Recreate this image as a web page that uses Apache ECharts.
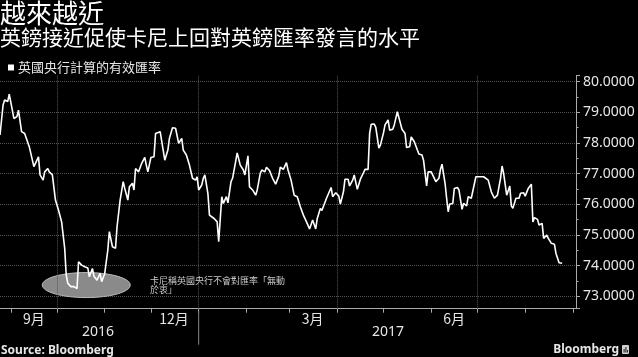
<!DOCTYPE html>
<html><head><meta charset="utf-8">
<script src="https://cdn.jsdelivr.net/npm/echarts@6/dist/echarts.min.js"></script>
<style>html,body{margin:0;padding:0;background:#000;}#c{width:638px;height:357px;}</style>
</head><body><div id="c"></div>
<script>
const dates = [
'2016-08-25','2016-08-27','2016-08-28','2016-08-30','2016-08-31','2016-09-02','2016-09-03','2016-09-05','2016-09-06','2016-09-08',
'2016-09-10','2016-09-11','2016-09-13','2016-09-16','2016-09-17','2016-09-19','2016-09-20','2016-09-22','2016-09-23','2016-09-25',
'2016-09-26','2016-09-28','2016-09-30','2016-10-02','2016-10-04','2016-10-06','2016-10-07','2016-10-08','2016-10-10','2016-10-12',
'2016-10-14','2016-10-15','2016-10-17','2016-10-19','2016-10-21','2016-10-22','2016-10-24','2016-10-25','2016-10-27','2016-10-29',
'2016-10-30','2016-11-01','2016-11-03','2016-11-04','2016-11-06','2016-11-08','2016-11-09','2016-11-11','2016-11-13','2016-11-14',
'2016-11-16','2016-11-17','2016-11-19','2016-11-20','2016-11-21','2016-11-22','2016-11-23','2016-11-25','2016-11-27','2016-11-28',
'2016-11-29','2016-12-01','2016-12-03','2016-12-04','2016-12-05','2016-12-07','2016-12-08','2016-12-10','2016-12-12','2016-12-13',
'2016-12-15','2016-12-17','2016-12-18','2016-12-19','2016-12-21','2016-12-22','2016-12-24','2016-12-26','2016-12-28','2016-12-30',
'2016-12-31','2017-01-01','2017-01-03','2017-01-04','2017-01-05','2017-01-07','2017-01-08','2017-01-11','2017-01-13','2017-01-14',
'2017-01-16','2017-01-17','2017-01-19','2017-01-20','2017-01-22','2017-01-23','2017-01-25','2017-01-26','2017-01-28','2017-01-30',
'2017-01-31','2017-02-02','2017-02-03','2017-02-05','2017-02-07','2017-02-08','2017-02-10','2017-02-11','2017-02-13','2017-02-14',
'2017-02-16','2017-02-18','2017-02-20','2017-02-22','2017-02-23','2017-02-25','2017-02-27','2017-02-28','2017-03-02','2017-03-04',
'2017-03-06','2017-03-08','2017-03-10','2017-03-12','2017-03-14','2017-03-16','2017-03-18','2017-03-19','2017-03-21','2017-03-22',
'2017-03-23','2017-03-25','2017-03-26','2017-03-28','2017-03-29','2017-03-31','2017-04-02','2017-04-03','2017-04-05','2017-04-06',
'2017-04-08','2017-04-09','2017-04-11','2017-04-12','2017-04-14','2017-04-16','2017-04-18','2017-04-19','2017-04-21','2017-04-22',
'2017-04-23','2017-04-25','2017-04-26','2017-04-28','2017-04-29','2017-05-01','2017-05-02','2017-05-04','2017-05-05','2017-05-07',
'2017-05-08','2017-05-10','2017-05-12','2017-05-13','2017-05-15','2017-05-16','2017-05-18','2017-05-19','2017-05-21','2017-05-23',
'2017-05-24','2017-05-26','2017-05-27','2017-05-29','2017-05-30','2017-06-01','2017-06-02','2017-06-04','2017-06-06','2017-06-07',
'2017-06-08','2017-06-10','2017-06-11','2017-06-12','2017-06-13','2017-06-15','2017-06-16','2017-06-18','2017-06-19','2017-06-21',
'2017-06-22','2017-06-24','2017-06-25','2017-06-27','2017-06-28','2017-06-30','2017-07-02','2017-07-03','2017-07-05','2017-07-06',
'2017-07-08','2017-07-10','2017-07-11','2017-07-12','2017-07-14','2017-07-16','2017-07-17','2017-07-18','2017-07-20','2017-07-22',
'2017-07-23','2017-07-24','2017-07-26','2017-07-28','2017-07-29','2017-07-31','2017-08-01','2017-08-03','2017-08-05','2017-08-06',
'2017-08-07','2017-08-09','2017-08-10','2017-08-12','2017-08-13','2017-08-15','2017-08-16','2017-08-18','2017-08-20','2017-08-21',
'2017-08-23','2017-08-25'
];
const values = [
78.26,79.24,79.40,79.35,79.59,79.07,78.80,78.86,79.07,78.37,
78.31,78.26,77.88,77.23,77.28,77.55,76.96,76.79,77.06,77.17,
77.06,76.96,76.14,75.81,75.43,74.57,73.70,73.43,73.32,73.32,
73.26,74.13,74.02,73.97,73.93,73.64,73.91,73.66,73.53,73.75,
73.48,73.75,74.51,75.11,74.62,74.57,75.27,76.14,76.74,76.52,
76.14,76.57,76.69,76.47,77.17,77.23,77.06,77.34,77.53,77.28,
77.06,77.53,77.55,78.31,78.37,78.37,78.31,77.44,77.77,78.15,
78.50,78.48,78.50,77.99,78.15,77.77,77.61,77.28,76.85,76.79,
76.90,76.47,76.63,76.85,76.96,76.35,75.65,75.54,75.43,74.78,
76.25,76.03,76.25,76.05,76.74,76.85,77.39,77.68,77.28,77.12,
76.96,77.58,76.57,76.47,76.30,76.47,77.01,77.12,77.06,77.21,
77.10,76.85,76.66,76.92,77.21,77.14,77.36,77.12,76.79,76.30,
76.25,75.92,75.65,75.43,75.20,75.49,75.20,75.54,75.87,75.80,
75.76,76.20,76.20,76.55,76.25,76.38,76.27,76.01,76.41,76.82,
76.82,76.60,76.79,76.96,76.49,76.82,77.03,77.14,77.14,78.31,
78.61,78.62,78.51,77.83,77.93,78.33,78.59,78.75,78.42,78.45,
78.59,79.02,78.64,78.45,78.31,77.85,77.88,78.20,78.04,77.77,
77.64,77.61,77.44,76.60,77.06,77.06,77.06,76.74,76.85,77.14,
77.31,76.68,76.20,75.76,76.01,76.03,76.52,76.55,76.47,75.84,
76.03,75.95,76.25,76.20,76.14,76.90,76.90,76.85,76.90,76.96,
76.79,76.41,76.36,76.20,76.30,76.85,77.25,77.01,76.30,76.60,
75.95,75.87,76.20,76.20,76.36,76.38,76.27,76.52,76.66,75.43,
75.57,75.51,75.33,75.38,74.89,75.00,74.89,74.73,74.70,74.40,
74.10,74.08
];
const seriesName = '英國央行計算的有效匯率';
const monthLabels = {'2016-09': '9月', '2016-12': '12月', '2017-03': '3月', '2017-06': '6月'};
const gridDates = ['2016-10-01', '2017-01-01', '2017-04-01', '2017-07-01'];
const yearLabels = ['2016', '2017'];
const yearBoundary = '2017-01-01';
const axisStart = '2016-08-25', axisEnd = '2017-09-03';
const yMin = 72.6, yMax = 80.2;
const annotationCenter = ['2016-10-20', 73.37];
const annotationText = '卡尼稱英國央行不會對匯率「無動\n於衷」';

const CJK = "'Noto Sans CJK TC','Noto Sans CJK SC','Noto Sans',sans-serif";
const LAT = "'Noto Sans','Noto Sans CJK TC',sans-serif";
function toTime(s) { const p = s.split('-').map(Number); return new Date(p[0], p[1] - 1, p[2]).getTime(); }

const chart = echarts.init(document.getElementById('c'), null, {renderer: 'canvas'});
const DAY = 86400000;
chart.setOption({
  backgroundColor: '#000',
  animation: false,
  grid: {left: 0, right: 62, top: 75.5, bottom: 48.3, containLabel: false},
  legend: {
    show: true, left: 3, top: 56, icon: 'rect', itemWidth: 6, itemHeight: 6, itemGap: 10,
    textStyle: {color: '#e6e6e6', fontSize: 13, fontFamily: CJK, padding: [0, 0, 0, -1]},
    data: [seriesName]
  },
  xAxis: {
    type: 'time',
    min: toTime(axisStart), max: toTime(axisEnd),
    splitNumber: 12, minInterval: 28 * DAY, maxInterval: 31 * DAY,
    axisLine: {show: true, lineStyle: {color: '#aaa', width: 1}},
    axisTick: {show: true, length: 4, lineStyle: {color: '#aaa'}},
    splitLine: {show: false},
    axisLabel: {
      show: true, margin: 3, color: '#e6e6e6', fontSize: 14, fontFamily: CJK,
      hideOverlap: false, showMinLabel: false, showMaxLabel: false,
      padding: [0, 0, 0, 46],
      formatter: function (v) {
        const d = new Date(v);
        if (d.getDate() !== 1 || d.getHours() !== 0) return '';
        const m = d.getMonth() + 1;
        const key = d.getFullYear() + '-' + (m < 10 ? '0' + m : '' + m);
        return monthLabels[key] || '';
      }
    }
  },
  yAxis: {
    type: 'value', position: 'right',
    min: yMin, max: yMax, splitNumber: 8, minInterval: 1, maxInterval: 1,
    axisLine: {show: true, lineStyle: {color: '#aaa', width: 1}},
    axisTick: {show: true, length: 4, lineStyle: {color: '#aaa'}},
    minorTick: {show: true, splitNumber: 2, length: 2.5, lineStyle: {color: '#aaa'}},
    splitLine: {show: true, showMinLine: false, showMaxLine: false, lineStyle: {color: '#555', type: 'dotted', width: 1}},
    axisLabel: {
      show: true, margin: 7, color: '#e6e6e6', fontSize: 14, fontFamily: LAT,
      showMinLabel: false, showMaxLabel: false,
      formatter: function (v) { return Math.abs(v - Math.round(v)) < 1e-6 ? v.toFixed(4) : ''; }
    }
  },
  series: [{
    name: seriesName, type: 'line', showSymbol: false, symbol: 'none',
    data: dates.map((d, i) => [toTime(d), values[i]]),
    lineStyle: {color: '#fff', width: 1.6},
    itemStyle: {color: '#fff'},
    z: 5,
    markLine: {
      silent: true, symbol: 'none', label: {show: false},
      lineStyle: {color: '#555', type: 'dotted', width: 1},
      data: gridDates.map(d => ({xAxis: toTime(d)}))
    }
  }]
});

const c = chart.convertToPixel({gridIndex: 0}, [toTime(annotationCenter[0]), annotationCenter[1]]);
const bx = chart.convertToPixel({gridIndex: 0}, [toTime(yearBoundary), yMin]);
chart.setOption({
  graphic: [
    {type: 'text', left: 0, top: 0, z: 10, style: {text: '越來越近', fill: '#fff', font: "26px " + CJK}},
    {type: 'text', left: 0, top: 27, z: 10, style: {text: '英鎊接近促使卡尼上回對英鎊匯率發言的水平', fill: '#fff', font: "21px " + CJK}},
    {type: 'ellipse', z: 1, shape: {cx: c[0], cy: c[1], rx: 44, ry: 12.5}, style: {fill: '#8a8a8a', stroke: '#bdbdbd', lineWidth: 1}},
    {type: 'text', x: 150, y: 275.5, z: 10, style: {text: annotationText, fill: '#c8c8c8', font: "9px " + CJK, lineHeight: 9.5, verticalAlign: 'top'}},
    {type: 'line', z: 10, shape: {x1: bx[0], y1: bx[1], x2: bx[0], y2: bx[1] + 36}, style: {stroke: '#888', lineWidth: 1}},
    {type: 'text', x: 98, y: 332, z: 10, style: {text: yearLabels[0], fill: '#e6e6e6', font: "14px " + LAT, align: 'center', verticalAlign: 'middle'}},
    {type: 'text', x: 388, y: 332, z: 10, style: {text: yearLabels[1], fill: '#e6e6e6', font: "14px " + LAT, align: 'center', verticalAlign: 'middle'}},
    {type: 'text', x: 1, y: 351, z: 10, style: {text: 'Source: Bloomberg', fill: '#e6e6e6', font: "bold 12px " + LAT, verticalAlign: 'middle'}},
    {type: 'text', x: 619, y: 350, z: 10, style: {text: 'Bloomberg', fill: '#e6e6e6', font: "bold 12px " + LAT, align: 'right', verticalAlign: 'middle'}},
    {type: 'rect', z: 10, shape: {x: 622, y: 345, width: 7, height: 9, r: 1}, style: {fill: '#cfcfcf'}},
    {type: 'rect', z: 11, shape: {x: 623.5, y: 349, width: 1.2, height: 3.5}, style: {fill: '#333'}},
    {type: 'rect', z: 11, shape: {x: 625.3, y: 347, width: 1.2, height: 5.5}, style: {fill: '#333'}},
    {type: 'rect', z: 11, shape: {x: 627, y: 350, width: 1.0, height: 2.5}, style: {fill: '#333'}}
  ]
});
</script></body></html>
